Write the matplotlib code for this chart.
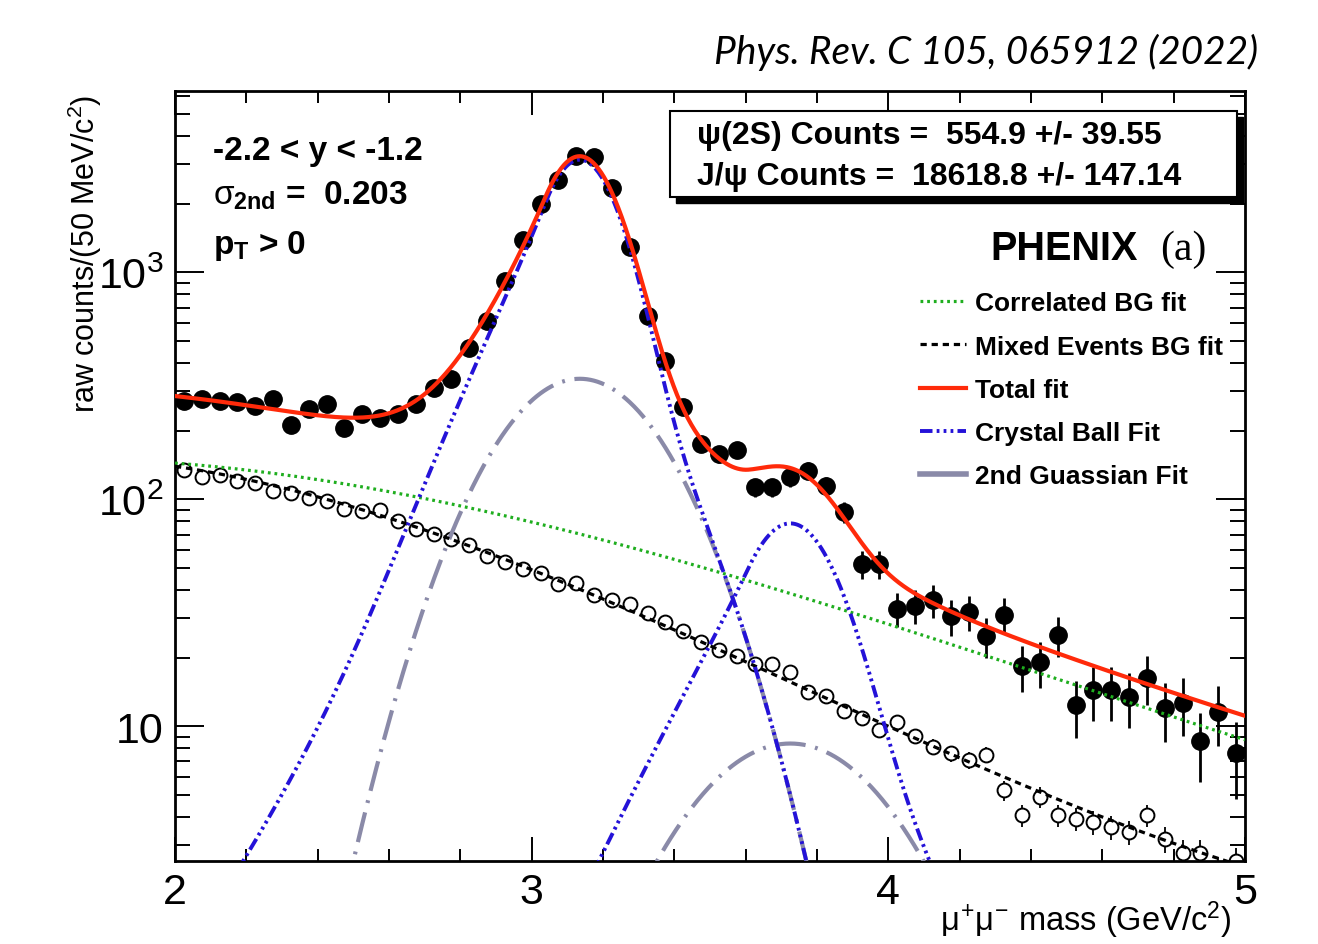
import numpy as np
import matplotlib
matplotlib.use("Agg")
import matplotlib.pyplot as plt
from matplotlib.patches import Rectangle
from matplotlib.lines import Line2D
from matplotlib.ticker import (MultipleLocator, FixedLocator, FixedFormatter,
                               LogLocator, NullFormatter, FormatStrFormatter)

# ---- data ---------------------------------------------------------------
# 50 MeV bins from 2 to 5 GeV/c^2
mass_lo, mass_hi, bin_width = 2.0, 5.0, 0.05
mass = np.arange(mass_lo + bin_width / 2, mass_hi, bin_width)

# same-event raw counts (filled circles)
raw_counts = [272, 278, 272, 270, 258, 276, 213, 249, 262, 207,
              239, 229, 239, 262, 311, 338, 464, 612, 921, 1388,
              2004, 2564, 3250, 3230, 2361, 1292, 644, 406, 256, 176,
              158, 165, 113, 113, 125, 134, 115, 88, 52, 52,
              33, 34, 36, 30.5, 32, 25, 31, 18.4, 19.2, 25.2,
              12.4, 14.4, 14.4, 13.5, 16.4, 12, 12.7, 8.6, 11.6, 7.6]
raw_err = [16.5, 16.7, 16.5, 16.4, 16.1, 16.6, 14.6, 15.8, 16.2, 14.4,
           15.5, 15.1, 15.5, 16.2, 17.6, 18.4, 21.5, 24.7, 30.3, 37.3,
           44.8, 50.6, 57.0, 56.8, 48.6, 35.9, 25.4, 20.1, 16.0, 13.3,
           12.6, 12.8, 10.6, 10.6, 11.2, 11.6, 10.7, 9.4, 7.2, 7.2,
           5.7, 5.8, 6.0, 5.5, 5.7, 5.0, 5.6, 4.3, 4.4, 5.0,
           3.5, 3.8, 3.8, 3.7, 4.0, 3.5, 3.6, 2.9, 3.4, 2.8]

# mixed-event background (open circles)
mixed_counts = [134.7, 125.8, 128, 120.4, 118.4, 108.8, 106.3, 101.7, 98.3, 91,
                88.9, 89.5, 80.3, 73.8, 70.2, 67.2, 62.8, 56.4, 53, 49.5,
                47.6, 42.3, 43, 37.8, 36.1, 34.5, 31.5, 28.7, 26.4, 23.5,
                21.7, 20.5, 18.8, 18.8, 17.4, 14.1, 13.6, 11.7, 10.9, 9.67,
                10.5, 9.03, 8.15, 7.6, 7.1, 7.5, 5.23, 4.05, 4.89, 4.05,
                3.92, 3.78, 3.6, 3.41, 4.05, 3.19, 2.78, 2.78, 2.3, 2.55]
mixed_err = [2.67, 2.58, 2.6, 2.52, 2.5, 2.4, 2.37, 2.32, 2.28, 2.19,
             2.17, 2.18, 2.06, 1.98, 1.93, 1.89, 1.82, 1.73, 1.67, 1.62,
             1.59, 1.5, 1.51, 1.41, 1.38, 1.35, 1.29, 1.23, 1.18, 1.11,
             1.07, 1.04, 1.0, 1.0, 0.96, 0.86, 0.85, 0.79, 0.76, 0.72,
             0.75, 0.69, 0.66, 0.63, 0.61, 0.63, 0.53, 0.46, 0.51, 0.46,
             0.46, 0.45, 0.44, 0.42, 0.46, 0.41, 0.38, 0.38, 0.35, 0.37]

# fit parameters (log10 polynomials in (m - 2) for the backgrounds)
corr_bg_coeffs = [2.16, -0.1217, -0.16, 0.0217]
mixed_bg_coeffs = [2.146, -0.2377, -0.269, 0.0507]
cb_alpha, cb_n = 1.0, 12.0
jpsi_mean, jpsi_cb_sigma, jpsi_cb_amp = 3.135, 0.098, 2800.0
jpsi_g_sigma, jpsi_g_amp = 0.203, 340.0
psi2s_mean, psi2s_cb_sigma, psi2s_cb_amp = 3.725, 0.117, 70.0
psi2s_g_sigma, psi2s_g_amp = 0.242, 8.4


def log_poly(m, coeffs):
    t = m - 2.0
    return 10 ** sum(c * t ** k for k, c in enumerate(coeffs))


def crystal_ball(m, amp, mean, sigma, alpha, n):
    z = (m - mean) / sigma
    a = (n / alpha) ** n * np.exp(-alpha ** 2 / 2)
    b = n / alpha - alpha
    tail = a / np.abs(b - z) ** n
    return amp * np.where(z > -alpha, np.exp(-z ** 2 / 2), tail)


def gauss(m, amp, mean, sigma):
    return amp * np.exp(-(m - mean) ** 2 / (2 * sigma ** 2))


# ---- style ---------------------------------------------------------------
plt.rcParams["font.family"] = ["Liberation Sans", "DejaVu Sans"]
plt.rcParams["mathtext.fontset"] = "custom"
plt.rcParams["mathtext.rm"] = "Liberation Sans"
plt.rcParams["mathtext.it"] = "Liberation Sans"
plt.rcParams["mathtext.bf"] = "Liberation Sans:bold"
plt.rcParams["lines.scale_dashes"] = False

fig = plt.figure(figsize=(13.18, 9.45), dpi=100)
ax = fig.add_axes([0.1328, 0.0878, 0.8118, 0.8148])

# ---- fit curves ----------------------------------------------------------
m = np.linspace(mass_lo, mass_hi, 1201)
corr_bg = log_poly(m, corr_bg_coeffs)
mixed_bg = log_poly(m, mixed_bg_coeffs)
jpsi_g = gauss(m, jpsi_g_amp, jpsi_mean, jpsi_g_sigma)
psi2s_g = gauss(m, psi2s_g_amp, psi2s_mean, psi2s_g_sigma)
jpsi_sig = crystal_ball(m, jpsi_cb_amp, jpsi_mean, jpsi_cb_sigma, cb_alpha, cb_n) + jpsi_g
psi2s_sig = crystal_ball(m, psi2s_cb_amp, psi2s_mean, psi2s_cb_sigma, cb_alpha, cb_n) + psi2s_g
total = corr_bg + mixed_bg + jpsi_sig + psi2s_sig

# data points
ax.errorbar(mass, raw_counts, yerr=raw_err, fmt="o", color="black", ms=12.5,
            elinewidth=2.0, capsize=0, zorder=2)
ax.errorbar(mass, mixed_counts, yerr=mixed_err, fmt="o", color="black", mfc="white",
            mec="black", mew=1.4, ms=10, elinewidth=1.3, capsize=0, zorder=2)

gray_c = "#8a8aa8"
blue_c = "#2412d8"
green_c = "#1fae1f"
red_c = "#ff2a0a"
gray_ls = (0, (22, 7, 2, 7))
blue_ls = (0, (9, 3, 2, 3, 2, 3, 2, 3))

ax.plot(m, jpsi_g, color=gray_c, lw=3.0, ls=gray_ls, zorder=3)
ax.plot(m, psi2s_g, color=gray_c, lw=3.0, ls=gray_ls, zorder=3)
g1, = ax.plot(m, corr_bg, color=green_c, lw=2.3, ls=(0, (2.0, 2.8)), zorder=4)
k1, = ax.plot(m, mixed_bg, color="black", lw=2.3, ls=(0, (4.5, 3.5)), zorder=4)
b1, = ax.plot(m, jpsi_sig, color=blue_c, lw=2.8, ls=blue_ls, zorder=5)
ax.plot(m, psi2s_sig, color=blue_c, lw=2.8, ls=blue_ls, zorder=5)
r1, = ax.plot(m, total, color=red_c, lw=3.0, zorder=6)

# ---- axes ----------------------------------------------------------------
ax.set_xlim(mass_lo, mass_hi)
ax.set_yscale("log")
ax.set_ylim(2.55, 6300)
ax.xaxis.set_major_locator(MultipleLocator(1))
ax.xaxis.set_major_formatter(FormatStrFormatter("%g"))
ax.xaxis.set_minor_locator(MultipleLocator(0.2))
ax.yaxis.set_major_locator(FixedLocator([10, 100, 1000]))
ax.yaxis.set_major_formatter(FixedFormatter(
    ["10", r"$\mathregular{10^{2}}$", r"$\mathregular{10^{3}}$"]))
ax.yaxis.set_minor_locator(LogLocator(base=10, subs=np.arange(2, 10)))
ax.yaxis.set_minor_formatter(NullFormatter())
ax.tick_params(which="both", direction="in", top=True, right=True, width=1.4,
               labelsize=31)
ax.tick_params(axis="x", which="major", length=17, pad=8)
ax.tick_params(axis="x", which="minor", length=8.5)
ax.tick_params(axis="y", which="major", length=21, pad=8)
ax.tick_params(axis="y", which="minor", length=10.5)
for s in ax.spines.values():
    s.set_linewidth(2.0)

ax.set_ylabel(r"raw counts/(50 MeV/c$^{2}$)", fontsize=22, va="center")
ax.yaxis.set_label_coords(-0.084, 0.79)
ax.set_xlabel(r"$\mu^{+}\mu^{-}$ mass (GeV/c$^{2}$)", fontsize=23.5, ha="right",
              va="center")
ax.xaxis.set_label_coords(0.987, -0.076)

# ---- annotations -------------------------------------------------------
ax.text(0.0355, 0.9117, "-2.2 < y < -1.2", transform=ax.transAxes, fontsize=24,
        fontweight="bold", va="baseline")
ax.text(0.0355, 0.8532, r"$\sigma_{\mathbf{2nd}}$ =  0.203", transform=ax.transAxes,
        fontsize=24, fontweight="bold", va="baseline")
ax.text(0.0355, 0.7896, r"$\mathbf{p}_{\mathbf{T}}$ > 0", transform=ax.transAxes,
        fontsize=24, fontweight="bold", va="baseline")

# counts box with shadow
bx0, by0, bw, bh = 0.4626, 0.8623, 0.5299, 0.1117
ax.add_patch(Rectangle((bx0 + 0.0056, by0 - 0.0078), bw, bh, transform=ax.transAxes,
                       facecolor="black", edgecolor="black", zorder=7, clip_on=False))
ax.add_patch(Rectangle((bx0, by0), bw, bh, transform=ax.transAxes, facecolor="white",
                       edgecolor="black", lw=1.5, zorder=8, clip_on=False))
ax.text(0.4879, 0.9325, "\u03c8(2S) Counts =  554.9 +/- 39.55", transform=ax.transAxes,
        fontsize=23, fontweight="bold", va="baseline", zorder=9)
ax.text(0.4879, 0.8792, "J/\u03c8 Counts =  18618.8 +/- 147.14", transform=ax.transAxes,
        fontsize=23, fontweight="bold", va="baseline", zorder=9)

ax.text(0.9, 0.7818, "PHENIX", transform=ax.transAxes, fontsize=28.5,
        fontweight="bold", ha="right", va="baseline")
ax.text(0.9206, 0.7818, "(a)", transform=ax.transAxes, fontsize=30,
        family="Liberation Serif", ha="left", va="baseline")

gauss_handle = Line2D([], [], color=gray_c, lw=4)
ax.legend([g1, k1, r1, b1, gauss_handle],
          ["Correlated BG fit", "Mixed Events BG fit", "Total fit",
           "Crystal Ball Fit", "2nd Guassian Fit"],
          loc="upper left", bbox_to_anchor=(0.6963, 0.740), frameon=False,
          prop={"size": 19, "weight": "bold"}, borderpad=0, borderaxespad=0,
          handlelength=1.75, handletextpad=0.33, labelspacing=0.73)

fig.text(0.9545, 0.945, "Phys. Rev. C 105, 065912 (2022)", fontsize=28,
         family=["Lato", "DejaVu Sans"], style="italic", ha="right", va="center")

fig.savefig("out.png", dpi=100, facecolor="white")
